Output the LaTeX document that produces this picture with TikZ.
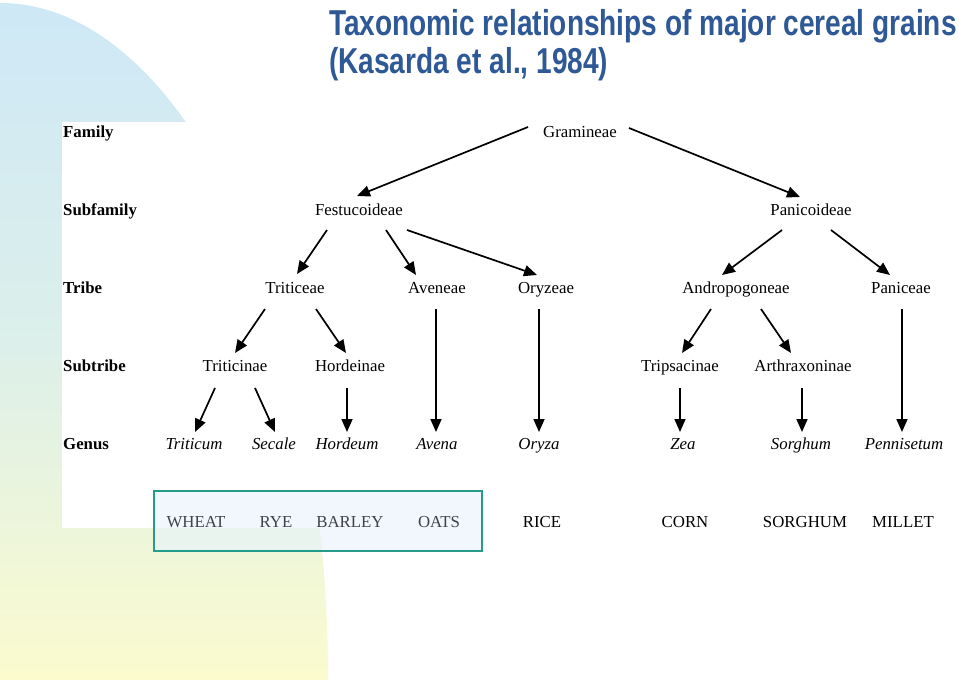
\documentclass[tikz,border=0pt]{standalone}
\usepackage{fontspec}
\setmainfont{Liberation Serif}
\newfontfamily\titlefont[FakeStretch=0.779]{Liberation Sans}
\usetikzlibrary{arrows.meta}
\definecolor{bgblue}{RGB}{206,232,246}
\definecolor{bgmid}{RGB}{220,239,234}
\definecolor{bgyel}{RGB}{251,251,206}
\definecolor{titleblue}{RGB}{46,89,150}
\definecolor{boxteal}{RGB}{38,155,140}
\definecolor{boxfill}{RGB}{232,243,253}
\definecolor{cropgray}{RGB}{65,65,70}
\tikzset{
  lbl/.style={anchor=base west, inner sep=0pt, font=\fontsize{16.8}{20}\selectfont\bfseries},
  tx/.style={anchor=base, inner sep=0pt, font=\fontsize{16.8}{20}\selectfont},
  gen/.style={anchor=base, inner sep=0pt, font=\fontsize{16.8}{20}\selectfont\itshape},
  crop/.style={anchor=base, inner sep=0pt, font=\fontsize{16.8}{20}\selectfont},
  arr/.style={-{Triangle[length=13pt,width=11pt]}, line width=1.7pt},
  ttl/.style={anchor=base west, inner sep=0pt, text=titleblue, font=\titlefont\fontsize{36}{40}\selectfont\bfseries}
}
\begin{document}
\begin{tikzpicture}[x=1pt,y=-1pt]
\useasboundingbox (0,0) rectangle (959,680);
\fill[white] (0,0) rectangle (959,680);
% background shape
\shade[top color=bgblue, bottom color=bgyel, middle color=bgmid]
  (0,680) -- (0,3) arc[start angle=270, end angle=360, x radius=328, y radius=677] -- cycle;
\fill[white] (62,122) rectangle (959,528);
% title
\node[ttl] (t1) at (329,35) {Taxonomic relationships of major cereal grains};
\node[ttl] (t2) at (329,73) {(Kasarda et al., 1984)};
% group box
\node[draw=boxteal, line width=1.3pt, fill=boxfill, fill opacity=0.6,
      minimum width=328pt, minimum height=60pt, inner sep=0pt] (grp) at (318,521) {};
% row labels
\node[lbl] (lfam) at (63,137) {Family};
\node[lbl] (lsub) at (63,215) {Subfamily};
\node[lbl] (ltri) at (63,293) {Tribe};
\node[lbl] (lstr) at (63,371) {Subtribe};
\node[lbl] (lgen) at (63,449) {Genus};
% taxa
\node[tx] (gram) at (580,137) {Gramineae};
\node[tx] (fest) at (359,215) {Festucoideae};
\node[tx] (pani) at (811,215) {Panicoideae};
\node[tx] (trit) at (295,293) {Triticeae};
\node[tx] (aven) at (437,293) {Aveneae};
\node[tx] (oryz) at (546,293) {Oryzeae};
\node[tx] (andr) at (736,293) {Andropogoneae};
\node[tx] (panc) at (901,293) {Paniceae};
\node[tx] (trcn) at (235,371) {Triticinae};
\node[tx] (hord) at (350,371) {Hordeinae};
\node[tx] (trip) at (680,371) {Tripsacinae};
\node[tx] (arth) at (803,371) {Arthraxoninae};
\node[gen] (gtri) at (194,449) {Triticum};
\node[gen] (gsec) at (274,449) {Secale};
\node[gen] (ghor) at (347,449) {Hordeum};
\node[gen] (gave) at (437,449) {Avena};
\node[gen] (gory) at (539,449) {Oryza};
\node[gen] (gzea) at (683,449) {Zea};
\node[gen] (gsor) at (801,449) {Sorghum};
\node[gen] (gpen) at (904,449) {Pennisetum};
% crops
\node[crop, text=cropgray] (wheat) at (196,527) {WHEAT};
\node[crop, text=cropgray] (rye) at (276,527) {RYE};
\node[crop, text=cropgray] (barley) at (350,527) {BARLEY};
\node[crop, text=cropgray] (oats) at (439,527) {OATS};
\node[crop] (rice) at (542,527) {RICE};
\node[crop] (corn) at (685,527) {CORN};
\node[crop] (sorghum) at (805,527) {SORGHUM};
\node[crop] (millet) at (903,527) {MILLET};
% arrows
\draw[arr] ([shift={(-52,-10)}]gram.base) -- ([shift={(-2,-19)}]fest.base);
\draw[arr] ([shift={(49,-9)}]gram.base) -- ([shift={(-11,-18)}]pani.base);
\draw[arr] ([shift={(-32,15)}]fest.base) -- ([shift={(2,-19)}]trit.base);
\draw[arr] ([shift={(27,15)}]fest.base) -- ([shift={(-21,-18)}]aven.base);
\draw[arr] ([shift={(48,15)}]fest.base) -- ([shift={(-9,-18)}]oryz.base);
\draw[arr] ([shift={(-29,15)}]pani.base) -- ([shift={(-14,-18)}]andr.base);
\draw[arr] ([shift={(20,15)}]pani.base) -- ([shift={(-11,-18)}]panc.base);
\draw[arr] ([shift={(-30,16)}]trit.base) -- ([shift={(0,-18)}]trcn.base);
\draw[arr] ([shift={(21,16)}]trit.base) -- ([shift={(-4,-18)}]hord.base);
\draw[arr] ([shift={(-1,16)}]aven.base) -- ([shift={(-1,-17)}]gave.base);
\draw[arr] ([shift={(-20,17)}]trcn.base) -- ([shift={(1,-17)}]gtri.base);
\draw[arr] ([shift={(20,17)}]trcn.base) -- ([shift={(1,-17)}]gsec.base);
\draw[arr] ([shift={(-3,17)}]hord.base) -- ([shift={(0,-17)}]ghor.base);
\draw[arr] ([shift={(-7,16)}]oryz.base) -- ([shift={(0,-17)}]gory.base);
\draw[arr] ([shift={(-25,16)}]andr.base) -- ([shift={(2,-18)}]trip.base);
\draw[arr] ([shift={(25,16)}]andr.base) -- ([shift={(-12,-18)}]arth.base);
\draw[arr] ([shift={(1,16)}]panc.base) -- ([shift={(-2,-17)}]gpen.base);
\draw[arr] ([shift={(0,17)}]trip.base) -- ([shift={(-3,-17)}]gzea.base);
\draw[arr] ([shift={(-1,17)}]arth.base) -- ([shift={(1,-17)}]gsor.base);
\end{tikzpicture}
\end{document}
